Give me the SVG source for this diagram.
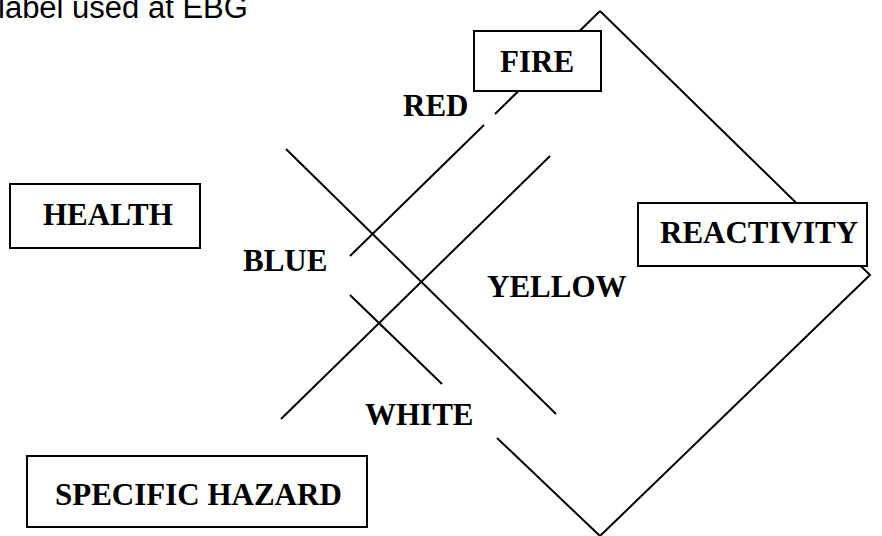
<svg xmlns="http://www.w3.org/2000/svg" width="882" height="536" viewBox="0 0 882 536">
<style>
.ln{stroke:#000;stroke-width:2;fill:none;stroke-linecap:butt}
.box{fill:#fff;stroke:#000;stroke-width:2}
.lb{font-family:"Liberation Serif","Times New Roman",serif;font-weight:bold;font-size:31px;fill:#000}
.ttl{font-family:"Liberation Sans",Arial,sans-serif;font-size:31px;fill:#000}
</style>
<rect width="882" height="536" fill="#fff"/>
<text class="ttl" x="-2" y="18">label used at EBG</text>
<g id="connectors">
<path class="ln" d="M600,11 L495,114"/>
<path class="ln" d="M484,125 L350,256"/>
<path class="ln" d="M350,295 L442,384"/>
<path class="ln" d="M497,438 L600,536"/>
<path class="ln" d="M600,11 L870,275 L600,536"/>
<path class="ln" d="M286,149 L556,414"/>
<path class="ln" d="M550,156 L281,419"/>
</g>
<g id="fire"><rect class="box" x="474" y="31" width="127" height="60"/><text class="lb" x="500" y="72">FIRE</text></g>
<g id="health"><rect class="box" x="10" y="184" width="190" height="64"/><text class="lb" x="43" y="225">HEALTH</text></g>
<g id="reactivity"><rect class="box" x="638" y="203" width="229" height="63"/><text class="lb" x="660" y="243">REACTIVITY</text></g>
<g id="specific-hazard"><rect class="box" x="27" y="456" width="340" height="71"/><text class="lb" x="55" y="505">SPECIFIC HAZARD</text></g>
<g id="labels">
<text class="lb" x="403" y="116">RED</text>
<text class="lb" x="243" y="271">BLUE</text>
<text class="lb" x="487" y="297">YELLOW</text>
<text class="lb" x="365" y="425">WHITE</text>
</g>
</svg>
